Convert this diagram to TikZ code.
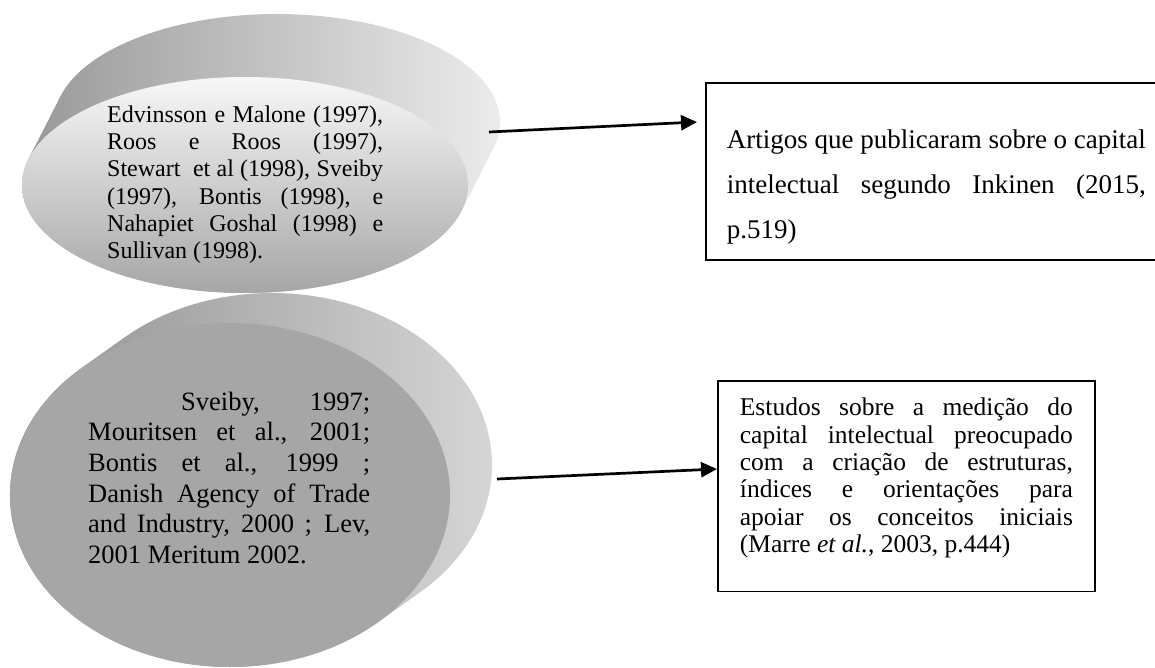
\documentclass[tikz,border=0pt]{standalone}
\usepackage{fontspec}
\setmainfont{Liberation Serif}
\usetikzlibrary{arrows.meta}
\tolerance=9999
\hbadness=10000

\begin{document}
\begin{tikzpicture}[x=1pt,y=-1pt,
		seta/.style={line width=2.7pt,-{Triangle[length=16pt,width=15pt]}},
		disco/.style={x radius=223pt,y radius=108pt},
		disco2/.style={x radius=220pt,y radius=172pt}
		]
		\tikzstyle{caixa}=[draw,line width=1.8pt,anchor=north west,inner ysep=0pt,align=justify]
		\tikzstyle{texto}=[anchor=north west,inner sep=0pt,align=justify]
		
		\clip (0,0) rectangle (1155,668);
		
		\shade[left color=black!45,right color=black!15]
			(378.4,622) -- (420.4,592) arc[start angle=-47.6,end angle=132.4,disco2]
			-- (81.6,368) arc[start angle=132.4,end angle=312.4,disco2] -- cycle;
		\fill[black!35] (230,495) ellipse [disco2];
		
		\shade[left color=black!42,right color=black!6]
			(461.6,210.8) -- (493.6,147.8) arc[start angle=-13.8,end angle=166.2,disco]
			-- (28.4,159.2) arc[start angle=166.2,end angle=346.2,disco] -- cycle;
		\shade[top color=black!3,bottom color=black!35] (245,185) ellipse [disco];
		
		\node[texto,text width=276pt,font=\fontsize{24}{27.3}\selectfont] (autores1) at (107,100)
			{\rule{0pt}{22pt}Edvinsson e Malone (1997),\linebreak
			Roos e Roos (1997),\linebreak
			Stewart\ \ et al (1998), Sveiby\linebreak
			(1997), Bontis (1998), e\linebreak
			Nahapiet Goshal (1998) e\linebreak
			Sullivan (1998).};
		\node[texto,text width=282pt,font=\fontsize{26.5}{30.6}\selectfont] (autores2) at (88,388)
			{\rule{0pt}{22pt}\hspace*{93pt}Sveiby, 1997;\linebreak
			Mouritsen et al., 2001;\linebreak
			Bontis et al., 1999 ;\linebreak
			Danish Agency of Trade\linebreak
			and Industry, 2000 ; Lev,\linebreak
			2001 Meritum 2002.};
		
		\node[caixa,text width=419pt,inner xsep=21pt,font=\fontsize{27}{45}\selectfont] (artigos) at (705,82)
			{\rule{0pt}{66pt}Artigos que publicaram sobre o capital\linebreak
			intelectual segundo Inkinen (2015,\linebreak
			p.519)\rule[-21pt]{0pt}{21pt}};
		\node[caixa,text width=333pt,inner xsep=22pt,font=\fontsize{25.5}{27.3}\selectfont] (estudos) at (717,380)
			{\rule{0pt}{35pt}Estudos sobre a medição do\linebreak
			capital intelectual preocupado\linebreak
			com a criação de estruturas,\linebreak
			índices e orientações para\linebreak
			apoiar os conceitos iniciais\linebreak
			(Marre \textit{et al.}, 2003, p.444)\rule[-39pt]{0pt}{39pt}};
		
		\coordinate (d1) at (489,132);
		\coordinate (d2) at (497,479);
		\draw[seta] (d1) -- ([xshift=-8pt,yshift=-40pt]artigos.north west);
		\draw[seta] (d2) -- ([yshift=-89pt]estudos.north west);
	\end{tikzpicture}
\end{document}
